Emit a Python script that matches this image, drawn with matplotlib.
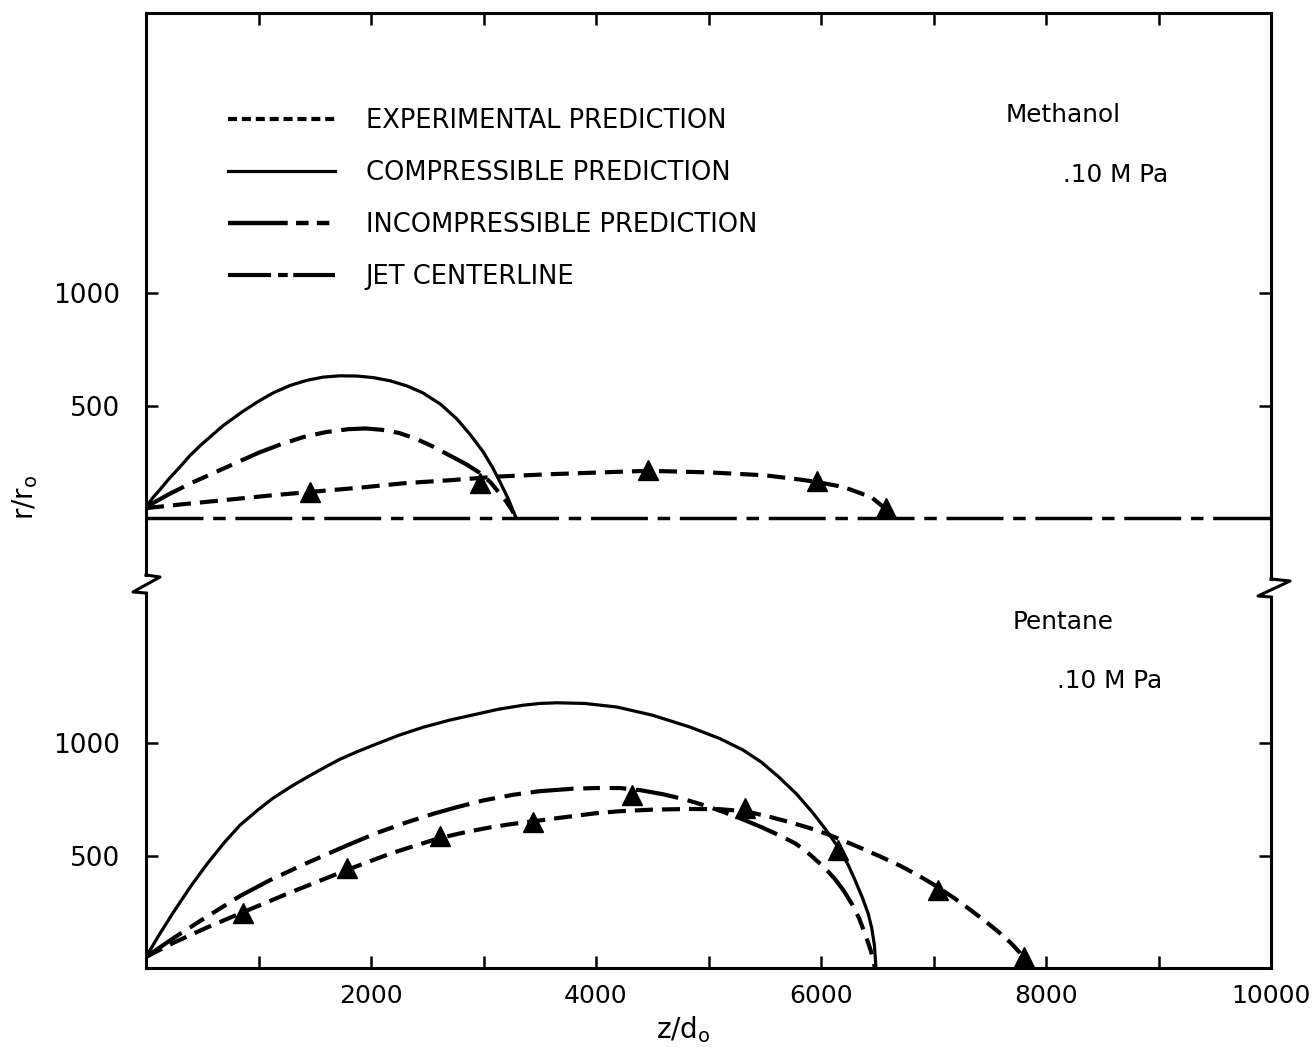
import matplotlib
matplotlib.use('Agg')
import matplotlib.pyplot as plt
from matplotlib.lines import Line2D

plt.rcParams['font.family'] = ['DejaVu Sans']
plt.rcParams['lines.scale_dashes'] = False
plt.rcParams['axes.linewidth'] = 2.2

# ---- Methanol, .10 MPa (upper panel) ----
meth_comp_z = [0, 60, 124, 200, 300, 391, 500, 684, 850, 987, 1130, 1280, 1430, 1573,
               1720, 1876, 2020, 2169, 2320, 2462, 2620, 2764, 2880, 2996, 3080, 3147,
               3220, 3290]
meth_comp_r = [49, 90, 126, 172, 226, 278, 330, 410, 470, 515, 556, 589, 612, 626,
               632, 631, 624, 610, 587, 556, 505, 440, 372, 295, 225, 160,
               85, 0]

meth_inc_z = [0, 200, 400, 600, 800, 1000, 1200, 1400, 1600, 1800, 1950, 2100, 2250,
              2400, 2550, 2700, 2850, 2969, 3060, 3140, 3200, 3250, 3290]
meth_inc_r = [49, 105, 155, 200, 245, 290, 328, 360, 382, 395, 398, 392, 378,
              352, 318, 278, 238, 200, 160, 112, 75, 38, 0]

meth_exp_z = [0, 300, 700, 1100, 1458, 1900, 2300, 2700, 3150, 3600, 4000, 4462,
              5000, 5500, 5800, 5965, 6200, 6450, 6600]
meth_exp_r = [44, 60, 80, 100, 116, 135, 155, 168, 185, 195, 202, 210,
              203, 190, 172, 160, 138, 92, 30]

meth_pts_z = [1458, 2969, 4462, 5965, 6578]
meth_pts_r = [116, 156, 213, 164, 44]

jet_z = [0, 10000]
jet_r = [0, 0]

# ---- Pentane, .10 MPa (lower panel) ----
pent_comp_z = [0, 120, 240, 400, 542, 700, 836, 1000, 1129, 1300, 1431, 1600, 1724,
               1870, 2018, 2250, 2462, 2700, 2907, 3130, 3351, 3500, 3653, 3900,
               4187, 4500, 4836, 5100, 5307, 5470, 5618, 5780, 5929, 6050, 6151,
               6240, 6302, 6370, 6418, 6450, 6475, 6489]
pent_comp_r = [49, 150, 245, 365, 462, 560, 635, 705, 755, 810, 848, 895, 928,
               960, 990, 1035, 1070, 1102, 1125, 1150, 1168, 1176, 1179, 1176,
               1160, 1124, 1071, 1020, 969, 915, 852, 775, 689, 610, 538,
               460, 391, 310, 244, 180, 100, 0]

pent_inc_z = [0, 250, 500, 836, 1100, 1400, 1787, 2050, 2320, 2550, 2764, 3000, 3262,
              3500, 3796, 4000, 4213, 4400, 4600, 4800, 4996, 5250, 5467, 5650, 5778,
              5900, 6027, 6120, 6200, 6280, 6338, 6400, 6444, 6480]
pent_inc_r = [49, 135, 215, 320, 390, 460, 545, 600, 648, 685, 715, 745, 770,
              786, 797, 800, 800, 790, 772, 748, 718, 672, 627, 585, 552,
              505, 448, 398, 345, 280, 222, 140, 75, 0]

pent_exp_z = [0, 240, 542, 862, 1280, 1787, 2169, 2400, 2613, 2850, 3058, 3250, 3440,
              3620, 3796, 4000, 4213, 4500, 4836, 5100, 5324, 5520, 5724, 5900, 6062,
              6200, 6347, 6520, 6702, 6870, 7031, 7180, 7324, 7460, 7591, 7690, 7769,
              7840]
pent_exp_r = [49, 111, 180, 248, 335, 436, 508, 545, 578, 605, 625, 640, 652,
              664, 675, 688, 697, 704, 707, 706, 697, 675, 648, 622, 594,
              566, 535, 497, 455, 410, 362, 312, 260, 208, 155, 110, 67,
              20]

pent_pts_z = [862, 1787, 2613, 3440, 4320, 5324, 6151, 7040, 7804]
pent_pts_r = [244, 444, 587, 649, 769, 711, 524, 347, 49]

x_major = [2000, 4000, 6000, 8000, 10000]
x_minor = [1000, 3000, 5000, 7000, 9000]
y_ticks = [500, 1000]

labels = ['EXPERIMENTAL PREDICTION', 'COMPRESSIBLE PREDICTION',
          'INCOMPRESSIBLE PREDICTION', 'JET CENTERLINE']

# line styles (points)
EXP_DASH = (13, 6.5)
INC_DASH = (31, 7, 12, 7, 12, 7)
JET_DASH = (41, 7, 9, 7)

W, H = 1312, 1047
fig = plt.figure(figsize=(W / 100, H / 100), dpi=100)
fig.patch.set_facecolor('white')


def fx(px):
    return px / W


def fy(py):
    return 1 - py / H


LEFT, RIGHT, TOP, BOTTOM, SPLIT = 146, 1271, 13, 968, 584

ax_top = fig.add_axes([fx(LEFT), fy(SPLIT), fx(RIGHT) - fx(LEFT), fy(TOP) - fy(SPLIT)])
ax_bot = fig.add_axes([fx(LEFT), fy(BOTTOM), fx(RIGHT) - fx(LEFT), fy(SPLIT) - fy(BOTTOM)])

ax_top.set_xlim(0, 10000)
ax_top.set_ylim(-293, 2244)
ax_bot.set_xlim(0, 10000)
ax_bot.set_ylim(0, 1707)

# broken frame between the two panels
ax_top.spines['bottom'].set_visible(False)
ax_bot.spines['top'].set_visible(False)
ax_top.spines['left'].set_bounds(-253, 2244)
ax_top.spines['right'].set_bounds(-271, 2244)
ax_bot.spines['left'].set_bounds(0, 1667)
ax_bot.spines['right'].set_bounds(0, 1649)

zig_left = ([146, 160, 133, 146], [575, 577, 592, 593])
zig_right = ([1271, 1290, 1258, 1271], [579, 581, 596, 597])
for xs, ys in (zig_left, zig_right):
    fig.add_artist(Line2D([fx(v) for v in xs], [fy(v) for v in ys],
                          transform=fig.transFigure, color='k', lw=2.2))

# ticks
TL = 8.6
ax_bot.set_xticks(x_major)
ax_bot.set_xticklabels([str(v) for v in x_major])
ax_bot.set_xticks(x_minor, minor=True)
ax_bot.tick_params(axis='x', which='both', direction='in', length=TL, width=1.8,
                   bottom=True, top=False, labelsize=18, pad=11.5)
ax_top.set_xticks(x_minor + x_major[:-1])
ax_top.tick_params(axis='x', which='both', direction='in', length=TL, width=1.8,
                   bottom=False, top=True, labelbottom=False, labeltop=False)
for ax in (ax_top, ax_bot):
    ax.set_yticks(y_ticks)
    ax.set_yticklabels([str(v) for v in y_ticks])
    ax.tick_params(axis='y', which='both', direction='in', length=TL, width=1.8,
                   left=True, right=True, labelsize=19, pad=18.5)

# upper panel: methanol
ax_top.plot(jet_z, jet_r, color='k', lw=2.5, dashes=JET_DASH)
ax_top.plot(meth_comp_z, meth_comp_r, color='k', lw=2.3)
ax_top.plot(meth_inc_z, meth_inc_r, color='k', lw=3.0, dashes=INC_DASH)
ax_top.plot(meth_exp_z, meth_exp_r, color='k', lw=3.0, dashes=EXP_DASH)
ax_top.plot(meth_pts_z, meth_pts_r, 'k^', ms=14, clip_on=False)

# lower panel: pentane
ax_bot.plot(pent_comp_z, pent_comp_r, color='k', lw=2.3)
ax_bot.plot(pent_inc_z, pent_inc_r, color='k', lw=3.0, dashes=INC_DASH)
ax_bot.plot(pent_exp_z, pent_exp_r, color='k', lw=3.0, dashes=EXP_DASH)
ax_bot.plot(pent_pts_z, pent_pts_r, 'k^', ms=14, clip_on=False)

# legend
handles = [
    Line2D([], [], color='k', lw=3.0, dashes=(6.5, 3.5)),
    Line2D([], [], color='k', lw=2.3),
    Line2D([], [], color='k', lw=3.2, dashes=(43, 6, 9, 6, 9, 6)),
    Line2D([], [], color='k', lw=3.0, dashes=(31, 5, 7, 4)),
]
ax_top.legend(handles, labels, loc='center left',
              bbox_to_anchor=(fx(228), fy(199)), bbox_transform=fig.transFigure,
              frameon=False, fontsize=18.5, handlelength=4.16, handletextpad=1.2,
              labelspacing=1.0, borderpad=0, borderaxespad=0)

# panel annotations
txt = dict(fontsize=17.8, ha='left', va='center', color='k')
fig.text(fx(1006), fy(115), 'Methanol', **txt)
fig.text(fx(1063), fy(175), '.10 M Pa', **txt)
fig.text(fx(1013), fy(622), 'Pentane', **txt)
fig.text(fx(1057), fy(681), '.10 M Pa', **txt)

# axis titles
fig.text(fx(683), fy(1030), r'z/d$_\mathrm{o}$', fontsize=20, ha='center', va='center')
fig.text(fx(25), fy(497), r'r/r$_\mathrm{o}$', fontsize=20, ha='center', va='center',
         rotation=90)

fig.savefig('out.png', dpi=100, facecolor='white')
